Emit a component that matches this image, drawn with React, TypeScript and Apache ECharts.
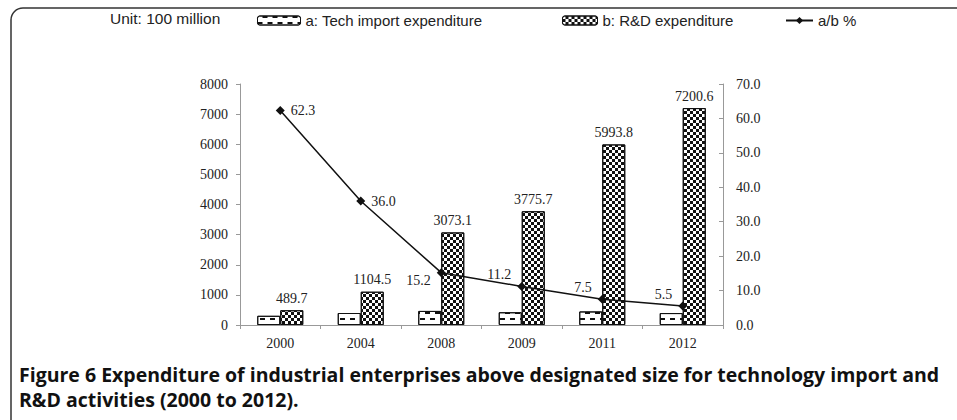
import React, { useEffect, useRef } from "react";
import * as echarts from "echarts";

const categories = ["2000", "2004", "2008", "2009", "2011", "2012"];
const techImport = [305, 398, 467, 423, 450, 396];
const rdExpenditure = [489.7, 1104.5, 3073.1, 3775.7, 5993.8, 7200.6];
const ratio = [62.3, 36.0, 15.2, 11.2, 7.5, 5.5];
const ratioLabelPos = ["right", "right", "left", "left", "left", "left"];
const ratioLabelOffset = [[0, 0], [0, 0], [0, 8], [0, -12], [0, -12], [0, -12]];

const nameA = "a: Tech import expenditure";
const nameB = "b: R&D expenditure";
const nameC = "a/b %";

const SERIF = "'Liberation Serif', 'Times New Roman', serif";
const SANS = "'Liberation Sans', Arial, sans-serif";

const decalA = {
  symbol: "rect",
  symbolSize: 1,
  color: "#111",
  backgroundColor: "#fff",
  dashArrayX: [[5, 5], [0, 5, 5, 0]],
  dashArrayY: [2, 4],
  rotation: 0,
};
const decalB = {
  symbol: "rect",
  symbolSize: 1,
  color: "#111",
  backgroundColor: "#fff",
  dashArrayX: [[3, 3], [0, 3, 3, 0]],
  dashArrayY: [3, 0],
  rotation: 0,
};

export default function App() {
  const ref = useRef<HTMLDivElement>(null);
  useEffect(() => {
    if (!ref.current) return;
    const chart = echarts.init(ref.current, null, { renderer: "svg" });
    const legendCommon = {
      top: 13,
      itemHeight: 9,
      padding: 0,
      textStyle: { fontFamily: SANS, fontSize: 15, color: "#222" },
      selectedMode: false,
    };
    chart.setOption({
      animation: false,
      backgroundColor: "#fff",
      graphic: [
        {
          type: "rect",
          shape: { x: 11, y: 8, width: 1000, height: 460, r: 12 },
          style: { fill: "none", stroke: "#333", lineWidth: 1.5 },
          silent: true,
        },
        {
          type: "text",
          x: 110,
          y: 18,
          style: {
            text: "Unit: 100 million",
            fontFamily: SANS,
            fontSize: 15.5,
            fill: "#222",
            verticalAlign: "middle",
          },
        },
        {
          type: "text",
          x: 19,
          y: 362,
          style: {
            text:
              "Figure 6 Expenditure of industrial enterprises above designated size for technology import and\nR&D activities (2000 to 2012).",
            fontFamily: "'Open Sans', sans-serif",
            fontSize: 19.5,
            fontWeight: "bold",
            lineHeight: 25,
            fill: "#111",
          },
        },
      ],
      legend: [
        {
          ...legendCommon,
          left: 257,
          itemWidth: 43,
          data: [{ name: nameA, itemStyle: { color: "#fff", borderColor: "#111", borderWidth: 1, decal: decalA } }],
        },
        {
          ...legendCommon,
          left: 562,
          itemWidth: 35,
          data: [{ name: nameB, itemStyle: { color: "#fff", borderColor: "#111", borderWidth: 1, decal: decalB } }],
        },
        {
          ...legendCommon,
          left: 785,
          itemWidth: 27,
          data: [{ name: nameC }],
        },
      ],
      grid: { left: 240, right: 234, top: 84, bottom: 95 },
      xAxis: {
        type: "category",
        data: categories,
        axisLine: { lineStyle: { color: "#999", width: 1 } },
        axisTick: { show: true, length: 4, lineStyle: { color: "#999" } },
        axisLabel: { fontFamily: SERIF, fontSize: 14, color: "#222", margin: 11 },
      },
      yAxis: [
        {
          type: "value",
          min: 0,
          max: 8000,
          interval: 1000,
          splitLine: { show: false },
          axisLine: { show: true, lineStyle: { color: "#999", width: 1 } },
          axisTick: { show: true, length: 4, lineStyle: { color: "#999" } },
          axisLabel: {
            fontFamily: SERIF,
            fontSize: 14,
            color: "#222",
            margin: 12,
            formatter: (v: number) => String(v),
          },
        },
        {
          type: "value",
          min: 0,
          max: 70,
          interval: 10,
          position: "right",
          splitLine: { show: false },
          axisLine: { show: true, lineStyle: { color: "#999", width: 1 } },
          axisTick: { show: true, inside: true, length: 4, lineStyle: { color: "#999" } },
          axisLabel: {
            fontFamily: SERIF,
            fontSize: 14,
            color: "#222",
            margin: 13,
            formatter: (v: number) => v.toFixed(1),
          },
        },
      ],
      series: [
        {
          name: nameA,
          type: "bar",
          data: techImport,
          barWidth: 23,
          barGap: "0%",
          itemStyle: { color: "#fff", borderColor: "#111", borderWidth: 1, decal: decalA },
        },
        {
          name: nameB,
          type: "bar",
          data: rdExpenditure,
          barWidth: 23,
          barGap: "0%",
          itemStyle: { color: "#fff", borderColor: "#111", borderWidth: 1, decal: decalB },
          label: {
            show: true,
            position: "top",
            distance: 5,
            fontFamily: SERIF,
            fontSize: 14,
            color: "#222",
            formatter: (p: any) => p.value.toFixed(1),
          },
        },
        {
          name: nameC,
          type: "line",
          yAxisIndex: 1,
          symbol: "diamond",
          symbolSize: 9,
          lineStyle: { color: "#111", width: 1.5 },
          itemStyle: { color: "#111" },
          data: ratio.map((v, i) => ({
            value: v,
            label: {
              show: true,
              position: ratioLabelPos[i],
              offset: ratioLabelOffset[i],
              distance: 6,
              fontFamily: SERIF,
              fontSize: 14,
              color: "#222",
              formatter: (p: any) => p.value.toFixed(1),
            },
          })),
        },
      ],
    });
    return () => chart.dispose();
  }, []);
  return (
    <div
      ref={ref}
      style={{ position: "absolute", left: 0, top: 0, width: 957, height: 420 }}
    />
  );
}
